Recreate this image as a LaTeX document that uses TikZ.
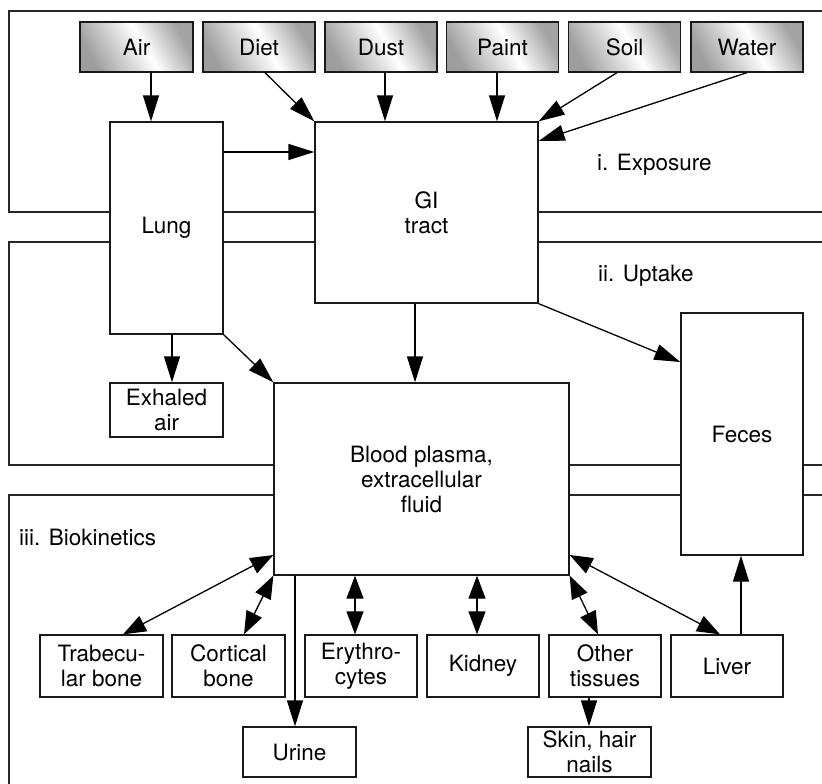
\documentclass[tikz,border=0pt]{standalone}
\usepackage{fontspec}
\setmainfont{TeX Gyre Heros}
\usetikzlibrary{arrows.meta}

% grey-white-grey sheen for the exposure sources
\pgfdeclarehorizontalshading{srcgrad}{100bp}{%
  color(0bp)=(black!38); color(25bp)=(black!38);
  color(54bp)=(white);
  color(75bp)=(black!36); color(100bp)=(black!36)}

\begin{document}
\begin{tikzpicture}[x=1pt,y=-1pt,
  every node/.style={font=\fontsize{22.5pt}{25pt}\selectfont},
  box/.style={draw=black!90, line width=1.3pt, fill=white, align=center,
    inner sep=0pt},
  srcbox/.style={box, shade, shading=srcgrad, shading angle=30,
    minimum width=112pt, minimum height=50pt},
  frame/.style={draw=black!85, line width=1.3pt},
  arr/.style={line width=1.3pt, -{Triangle[length=26pt,width=16pt]}},
  darr/.style={line width=1.3pt,
    {Triangle[length=23pt,width=17pt]}-{Triangle[length=23pt,width=17pt]}},
  lbl/.style={anchor=west, inner sep=0pt}]

\clip (0,0) rectangle (822,784);

% stage frames (open to the right edge)
\draw[frame] (9,11) rectangle (840,212);
\draw[frame] (9,242) rectangle (840,465);
\draw[frame] (9,495) rectangle (840,820);

% exposure sources
\node[srcbox, minimum width=113pt] (air)   at (136.5,47) {Air};
\node[srcbox] (diet)  at (259,47)   {Diet};
\node[srcbox] (dust)  at (381,47)   {Dust};
\node[srcbox] (paint) at (502.5,47) {Paint};
\node[srcbox] (soil)  at (624.5,47) {Soil};
\node[srcbox] (water) at (747,47)   {Water};

% compartments
\node[box, minimum width=113pt, minimum height=212pt] (lung) at (166.5,228) {Lung};
\node[box, minimum width=223pt, minimum height=181pt] (gi) at (426.5,212.5) {GI\\tract};
\node[box, minimum width=113pt, minimum height=54pt] (exh) at (166.5,410) {Exhaled\\air};
\node[box, minimum width=295pt, minimum height=192pt] (blood) at (421.5,479)
  {Blood plasma,\\extracellular\\fluid};
\node[box, minimum width=122pt, minimum height=242pt] (feces) at (742,434) {Feces};

\node[box, minimum width=123pt, minimum height=62pt] (trab) at (101.5,666) {Trabecu-\\lar bone};
\node[box, minimum width=113pt, minimum height=62pt] (cort) at (228.5,666) {Cortical\\bone};
\node[box, minimum width=112pt, minimum height=62pt] (ery) at (361,666) {Erythro-\\cytes};
\node[box, minimum width=112pt, minimum height=62pt] (kid) at (483,666) {Kidney};
\node[box, minimum width=112pt, minimum height=62pt] (oth) at (605,666) {Other\\tissues};
\node[box, minimum width=112pt, minimum height=62pt] (liver) at (727,666) {Liver};
\node[box, minimum width=113pt, minimum height=50pt] (urine) at (299.5,752) {Urine};
\node[box, minimum width=123pt, minimum height=50pt] (skin) at (589.5,752) {Skin, hair\\nails};

% stage labels
\node[lbl] (lexp) at (597,165) {i. Exposure};
\node[lbl] (lupt) at (598,276) {ii. Uptake};
\node[lbl] (lbio) at (19,537) {iii. Biokinetics};

% exposure pathways
\draw[arr] (air.south -| 151,0) -- (lung.north -| 151,0);
\draw[arr] (diet.south -| 265,0) -- (gi.north west);
\draw[arr] (dust.south -| 385,0) -- (gi.north -| 385,0);
\draw[arr] (paint.south -| 497,0) -- (gi.north -| 497,0);
\draw[arr] (soil.south -| 617,0) -- (gi.north east);
\draw[arr] (water.south -| 747,0) -- (gi.east |- 0,141);
\draw[arr] (lung.east |- 0,152) -- (gi.west |- 0,152);

% uptake
\draw[arr] (lung.south -| 172,0) -- (exh.north -| 172,0);
\draw[arr] (lung.south east) -- (blood.north west);
\draw[arr] (gi.south -| 415,0) -- (blood.north -| 415,0);
\draw[arr] (gi.south east) -- (feces.west |- 0,362);

% biokinetics
\draw[darr] (blood.west |- 0,555) -- (trab.north -| 123,0);
\draw[darr] (blood.south west) -- (cort.north -| 244,0);
\draw[arr]  (blood.south -| 295,0) -- (urine.north -| 295,0);
\draw[darr] (blood.south -| 355,0) -- (ery.north -| 355,0);
\draw[darr] (blood.south -| 477,0) -- (kid.north -| 477,0);
\draw[darr] (blood.south east) -- (oth.north -| 598,0);
\draw[darr] (blood.east |- 0,555) -- (liver.north -| 720,0);
\draw[arr]  (liver.north -| 741,0) -- (feces.south -| 741,0);
\draw[arr]  (oth.south -| 589,0) -- (skin.north -| 589,0);

\end{tikzpicture}
\end{document}
